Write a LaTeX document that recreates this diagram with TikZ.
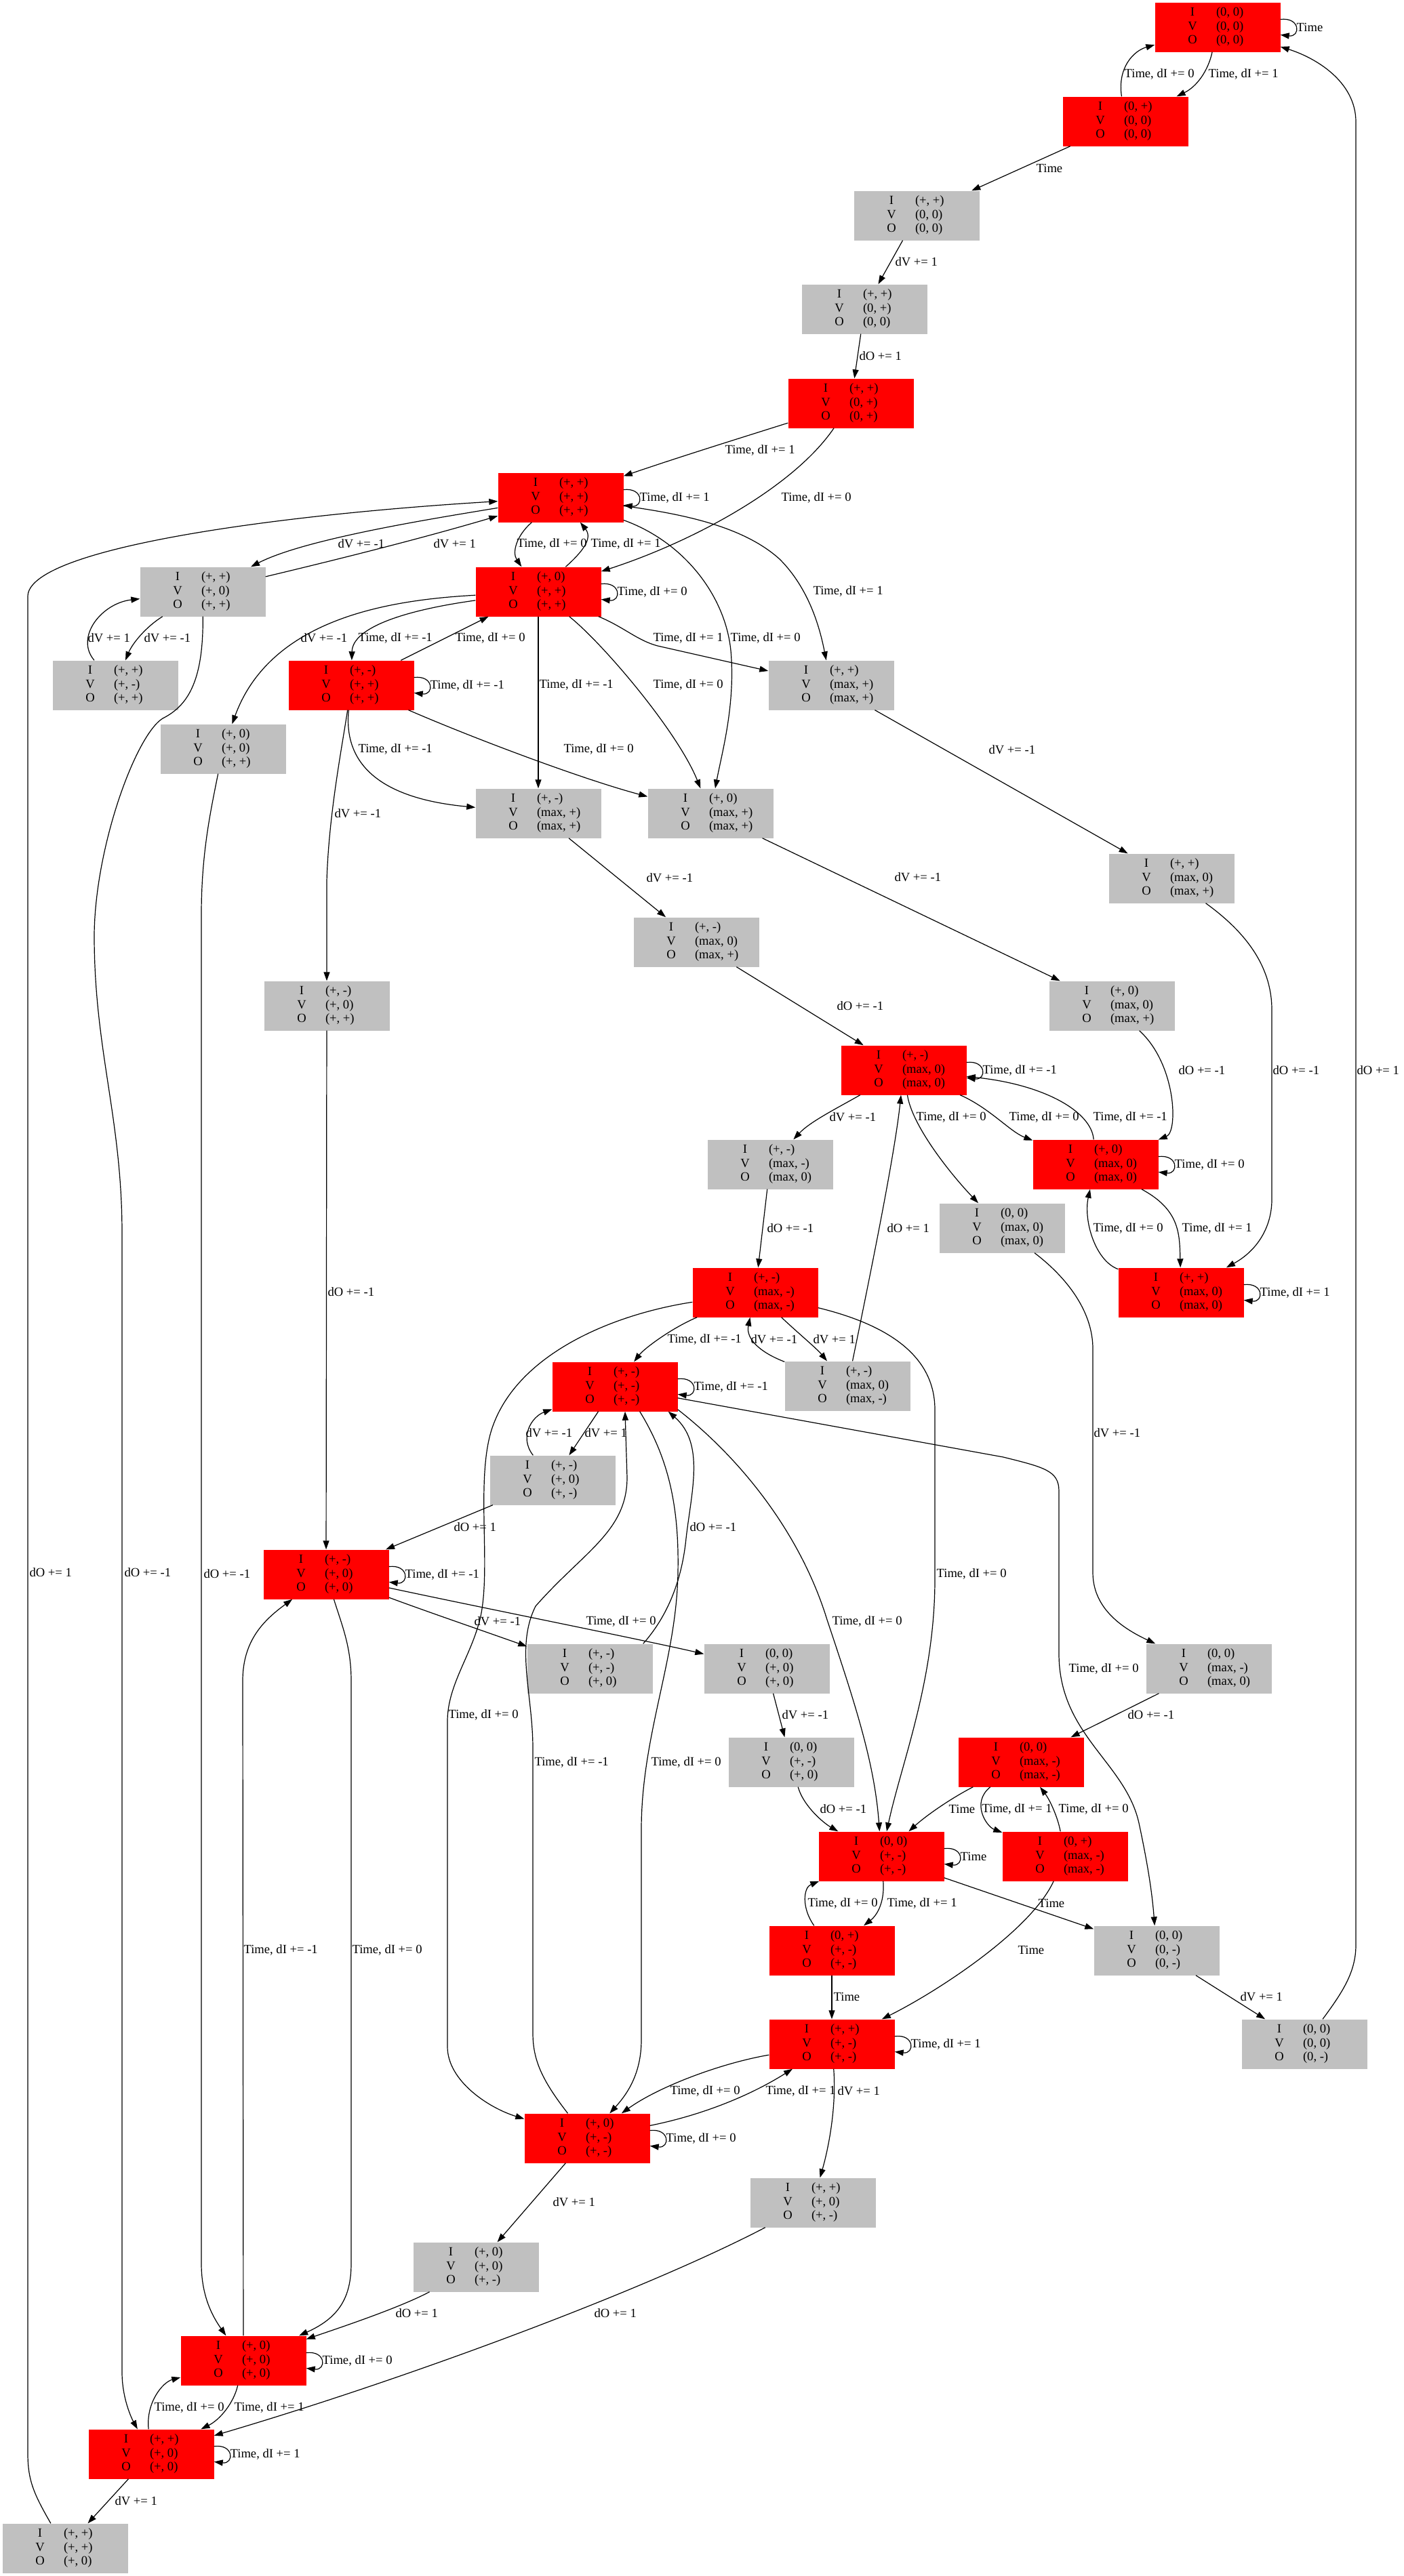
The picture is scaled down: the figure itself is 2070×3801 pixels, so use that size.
\documentclass[tikz,border=0pt]{standalone}
\usepackage{fontspec}
\setmainfont{Liberation Serif}
\usepackage{array}
\usetikzlibrary{arrows.meta}
\definecolor{stategrey}{RGB}{192,192,192}
\newcommand{\ivo}[3]{\begin{tabular}{@{}w{c}{70pt}@{}w{l}{74pt}@{}}I & #1\\ V & #2\\ O & #3\end{tabular}}
\tikzset{
qstate/.style = {rectangle, minimum width = 185pt, minimum height = 73pt, inner sep = 0pt,
   font = \fontsize{18.6pt}{20.3pt}\selectfont},
redstate/.style = {qstate, fill = red},
greystate/.style = {qstate, fill = stategrey},
transit/.style = {-{Triangle[length = 13pt, width = 9pt]}, line width = 1.2pt},
selfloop/.style = {out = 7, in = -7, distance = 30pt},
lab/.style = {anchor = west, inner sep = 1pt, font = \fontsize{18.6pt}{20.3pt}\selectfont}
}

\begin{document}
\begin{tikzpicture}[x = 1pt, y = -1pt]
\useasboundingbox (0,0) rectangle (2070,3801);

%% States
\node [redstate]  (s1)  at (1796,40)   {\ivo{(0, 0)}{(0, 0)}{(0, 0)}};
\node [redstate]  (s2)  at (1660,179)  {\ivo{(0, +)}{(0, 0)}{(0, 0)}};
\node [greystate] (s3)  at (1352,318)  {\ivo{(+, +)}{(0, 0)}{(0, 0)}};
\node [greystate] (s4)  at (1275,456)  {\ivo{(+, +)}{(0, +)}{(0, 0)}};
\node [redstate]  (s5)  at (1255,595)  {\ivo{(+, +)}{(0, +)}{(0, +)}};
\node [redstate]  (s6)  at (827,734)   {\ivo{(+, +)}{(+, +)}{(+, +)}};
\node [greystate] (s7)  at (299,873)   {\ivo{(+, +)}{(+, 0)}{(+, +)}};
\node [redstate]  (s8)  at (794,873)   {\ivo{(+, 0)}{(+, +)}{(+, +)}};
\node [greystate] (s9)  at (170,1011)  {\ivo{(+, +)}{(+, -)}{(+, +)}};
\node [redstate]  (s10) at (518,1011)  {\ivo{(+, -)}{(+, +)}{(+, +)}};
\node [greystate] (s11) at (1226,1011) {\ivo{(+, +)}{(max, +)}{(max, +)}};
\node [greystate] (s12) at (329,1105)  {\ivo{(+, 0)}{(+, 0)}{(+, +)}};
\node [greystate] (s13) at (794,1200)  {\ivo{(+, -)}{(max, +)}{(max, +)}};
\node [greystate] (s14) at (1048,1200) {\ivo{(+, 0)}{(max, +)}{(max, +)}};
\node [greystate] (s15) at (1027,1390) {\ivo{(+, -)}{(max, 0)}{(max, +)}};
\node [greystate] (s16) at (1728,1296) {\ivo{(+, +)}{(max, 0)}{(max, +)}};
\node [greystate] (s17) at (1640,1484) {\ivo{(+, 0)}{(max, 0)}{(max, +)}};
\node [greystate] (s18) at (482,1484)  {\ivo{(+, -)}{(+, 0)}{(+, +)}};
\node [redstate]  (s19) at (1333,1579) {\ivo{(+, -)}{(max, 0)}{(max, 0)}};
\node [greystate] (s20) at (1136,1718) {\ivo{(+, -)}{(max, -)}{(max, 0)}};
\node [redstate]  (s21) at (1616,1718) {\ivo{(+, 0)}{(max, 0)}{(max, 0)}};
\node [greystate] (s22) at (1478,1812) {\ivo{(0, 0)}{(max, 0)}{(max, 0)}};
\node [redstate]  (s23) at (1114,1907) {\ivo{(+, -)}{(max, -)}{(max, -)}};
\node [redstate]  (s24) at (1742,1907) {\ivo{(+, +)}{(max, 0)}{(max, 0)}};
\node [greystate] (s25) at (1250,2045) {\ivo{(+, -)}{(max, 0)}{(max, -)}};
\node [redstate]  (s26) at (907,2046)  {\ivo{(+, -)}{(+, -)}{(+, -)}};
\node [greystate] (s27) at (815,2184)  {\ivo{(+, -)}{(+, 0)}{(+, -)}};
\node [redstate]  (s28) at (481,2323)  {\ivo{(+, -)}{(+, 0)}{(+, 0)}};
\node [greystate] (s29) at (870,2462)  {\ivo{(+, -)}{(+, -)}{(+, 0)}};
\node [greystate] (s30) at (1131,2462) {\ivo{(0, 0)}{(+, 0)}{(+, 0)}};
\node [greystate] (s31) at (1167,2600) {\ivo{(0, 0)}{(+, -)}{(+, 0)}};
\node [redstate]  (s32) at (1300,2739) {\ivo{(0, 0)}{(+, -)}{(+, -)}};
\node [greystate] (s33) at (1783,2462) {\ivo{(0, 0)}{(max, -)}{(max, 0)}};
\node [redstate]  (s34) at (1506,2600) {\ivo{(0, 0)}{(max, -)}{(max, -)}};
\node [redstate]  (s35) at (1571,2739) {\ivo{(0, +)}{(max, -)}{(max, -)}};
\node [redstate]  (s36) at (1227,2878) {\ivo{(0, +)}{(+, -)}{(+, -)}};
\node [greystate] (s37) at (1706,2878) {\ivo{(0, 0)}{(0, -)}{(0, -)}};
\node [redstate]  (s38) at (1227,3016) {\ivo{(+, +)}{(+, -)}{(+, -)}};
\node [greystate] (s39) at (1924,3016) {\ivo{(0, 0)}{(0, 0)}{(0, -)}};
\node [greystate] (s40) at (1199,3250) {\ivo{(+, +)}{(+, 0)}{(+, -)}};
\node [redstate]  (s41) at (866,3155)  {\ivo{(+, 0)}{(+, -)}{(+, -)}};
\node [greystate] (s42) at (702,3345)  {\ivo{(+, 0)}{(+, 0)}{(+, -)}};
\node [redstate]  (s43) at (359,3483)  {\ivo{(+, 0)}{(+, 0)}{(+, 0)}};
\node [redstate]  (s44) at (223,3621)  {\ivo{(+, +)}{(+, 0)}{(+, 0)}};
\node [greystate] (s45) at (96,3760)   {\ivo{(+, +)}{(+, +)}{(+, 0)}};

%% Self loops
\foreach \nm/\lbl in {s1/Time, s6/{Time, dI += 1}, s8/{Time, dI += 0}, s10/{Time, dI += -1},
   s19/{Time, dI += -1}, s21/{Time, dI += 0}, s24/{Time, dI += 1}, s26/{Time, dI += -1},
   s28/{Time, dI += -1}, s32/Time, s38/{Time, dI += 1}, s41/{Time, dI += 0},
   s43/{Time, dI += 0}, s44/{Time, dI += 1}}
   \draw [transit] (\nm) to [selfloop] node [lab] {\lbl} (\nm);

%% Top chain
\draw [transit] (s1) .. controls (1782,105) and (1765,128) .. (s2) node [lab] at (1781,109) {Time, dI += 1};
\draw [transit] (s2) .. controls (1648,100) and (1672,75) .. (s1) node [lab] at (1657,109) {Time, dI += 0};
\draw [transit] (s2) -- (s3) node [lab] at (1527,248) {Time};
\draw [transit] (s3) -- (s4) node [lab] at (1319,386) {dV += 1};
\draw [transit] (s4) -- (s5) node [lab] at (1266,525) {dO += 1};
\draw [transit] (s5) .. controls (1080,650) and (1000,675) .. (s6) node [lab] at (1068,664) {Time, dI += 1};
\draw [transit] (s5) .. controls (1170,720) and (1020,800) .. (s8) node [lab] at (1151,734) {Time, dI += 0};

%% Upper block
\draw [transit] (s6) .. controls (640,765) and (450,795) .. (s7) node [lab] at (497,802) {dV += -1};
\draw [transit] (s7) .. controls (500,825) and (620,795) .. (s6) node [lab] at (638,802) {dV += 1};
\draw [transit] (s6) .. controls (762,790) and (755,815) .. (s8) node [lab] at (761,802) {Time, dI += 0};
\draw [transit] (s8) .. controls (858,815) and (875,795) .. (s6) node [lab] at (870,802) {Time, dI += 1};
\draw [transit] (s6) .. controls (1010,800) and (1070,880) .. (1078,960) .. controls (1085,1040) and (1065,1110) .. (s14)
   node [lab] at (1076,941) {Time, dI += 0};
\draw [transit] (s6) .. controls (1020,760) and (1100,780) .. (1150,825) .. controls (1195,870) and (1210,930) .. (s11)
   node [lab] at (1198,872) {Time, dI += 1};
\draw [transit] (s8) .. controls (580,885) and (400,910) .. (s12) node [lab] at (442,941) {dV += -1};
\draw [transit] (s8) .. controls (600,900) and (520,925) .. (s10) node [lab] at (527,941) {Time, dI += -1};
\draw [transit] (s10) .. controls (630,955) and (690,925) .. (s8) node [lab] at (670,941) {Time, dI += 0};
\draw [transit] (s8) -- (s13) node [lab] at (794,1010) {Time, dI += -1};
\draw [transit] (s8) .. controls (890,950) and (1000,1080) .. (s14) node [lab] at (962,1010) {Time, dI += 0};
\draw [transit] (s8) .. controls (920,925) and (940,945) .. (970,953) -- (s11) node [lab] at (962,941) {Time, dI += 1};
\draw [transit] (s7) .. controls (215,925) and (195,950) .. (s9) node [lab] at (211,941) {dV += -1};
\draw [transit] (s9) .. controls (110,940) and (150,890) .. (s7) node [lab] at (128,941) {dV += 1};
\draw [transit] (s10) .. controls (505,1100) and (485,1200) .. (482,1300) -- (s18) node [lab] at (492,1200) {dV += -1};
\draw [transit] (s10) .. controls (505,1140) and (580,1180) .. (s13) node [lab] at (527,1105) {Time, dI += -1};
\draw [transit] (s10) .. controls (700,1090) and (860,1150) .. (s14) node [lab] at (830,1105) {Time, dI += 0};
\draw [transit] (s11) -- (s16) node [lab] at (1457,1106) {dV += -1};
\draw [transit] (s13) -- (s15) node [lab] at (952,1295) {dV += -1};
\draw [transit] (s14) -- (s17) node [lab] at (1318,1294) {dV += -1};
\draw [transit] (s15) -- (s19) node [lab] at (1233,1484) {dO += -1};
\draw [transit] (s17) .. controls (1735,1570) and (1738,1670) .. (s21) node [lab] at (1737,1579) {dO += -1};
\draw [transit] (s16) .. controls (1830,1370) and (1876,1420) .. (1876,1490) -- (1876,1770)
   .. controls (1876,1810) and (1855,1845) .. (s24) node [lab] at (1876,1579) {dO += -1};
\draw [transit] (s18) -- (s28) node [lab] at (482,1906) {dO += -1};

%% Max block
\draw [transit] (s19) .. controls (1235,1635) and (1195,1655) .. (s20) node [lab] at (1222,1648) {dV += -1};
\draw [transit] (s19) .. controls (1345,1660) and (1400,1730) .. (s22) node [lab] at (1350,1648) {Time, dI += 0};
\draw [transit] (s19) .. controls (1460,1635) and (1490,1670) .. (s21) node [lab] at (1487,1648) {Time, dI += 0};
\draw [transit] (s21) .. controls (1610,1640) and (1540,1600) .. (s19) node [lab] at (1611,1648) {Time, dI += -1};
\draw [transit] (s25) .. controls (1290,1850) and (1320,1700) .. (s19) node [lab] at (1307,1812) {dO += 1};
\draw [transit] (s20) -- (s23) node [lab] at (1130,1812) {dO += -1};
\draw [transit] (s21) .. controls (1740,1785) and (1740,1820) .. (s24) node [lab] at (1742,1812) {Time, dI += 1};
\draw [transit] (s24) .. controls (1615,1860) and (1598,1800) .. (s21) node [lab] at (1611,1812) {Time, dI += 0};
\draw [transit] (s22) .. controls (1580,1890) and (1612,1940) .. (1612,1990) -- (1612,2320)
   .. controls (1612,2370) and (1650,2400) .. (s33) node [lab] at (1612,2114) {dV += -1};
\draw [transit] (s23) .. controls (990,1960) and (950,1990) .. (s26) node [lab] at (983,1976) {Time, dI += -1};
\draw [transit] (s23) .. controls (900,1940) and (760,2000) .. (725,2110) .. controls (700,2190) and (728,2330) .. (705,2400)
   .. controls (690,2450) and (660,2490) .. (660,2540) -- (660,3020) .. controls (660,3070) and (720,3110) .. (s41)
   node [lab] at (660,2530) {Time, dI += 0};
\draw [transit] (s23) .. controls (1290,1950) and (1379,1990) .. (1379,2080) -- (1379,2330)
   .. controls (1379,2480) and (1330,2600) .. (s32) node [lab] at (1380,2322) {Time, dI += 0};
\draw [transit] (s23) .. controls (1175,1965) and (1205,1990) .. (s25) node [lab] at (1198,1976) {dV += 1};
\draw [transit] (s25) .. controls (1120,1995) and (1100,1975) .. (s23) node [lab] at (1106,1976) {dV += -1};

%% Lower block
\draw [transit] (s26) -- (s27) node [lab] at (861,2114) {dV += 1};
\draw [transit] (s27) .. controls (765,2120) and (785,2090) .. (s26) node [lab] at (774,2114) {dV += -1};
\draw [transit] (s27) -- (s28) node [lab] at (668,2253) {dO += 1};
\draw [transit] (s29.25) .. controls (980,2390) and (1005,2340) .. (1012,2270) .. controls (1020,2200) and (1040,2130) .. (s26.-25)
   node [lab] at (1016,2253) {dO += -1};
\draw [transit] (s26.-20) .. controls (1090,2150) and (1180,2260) .. (1220,2390) .. controls (1260,2510) and (1290,2600) .. (s32)
   node [lab] at (1226,2392) {Time, dI += 0};
\draw [transit] (s26) -- (1480,2150) .. controls (1540,2165) and (1562,2170) .. (1562,2200) -- (1562,2440)
   .. controls (1562,2560) and (1660,2600) .. (1680,2690) .. controls (1695,2760) and (1700,2800) .. (s37)
   node [lab] at (1575,2462) {Time, dI += 0};
\draw [transit] (s28) .. controls (630,2378) and (700,2402) .. (s29) node [lab] at (698,2392) {dV += -1};
\draw [transit] (s28) .. controls (700,2370) and (950,2420) .. (s30) node [lab] at (863,2392) {Time, dI += 0};
\draw [transit] (s28) .. controls (505,2400) and (518,2430) .. (518,2480) -- (518,3340)
   .. controls (518,3390) and (500,3420) .. (s43) node [lab] at (518,2877) {Time, dI += 0};
\draw [transit] (s43) -- (358,2480) .. controls (358,2420) and (390,2390) .. (s28) node [lab] at (358,2877) {Time, dI += -1};
\draw [transit] (s30) -- (s31) node [lab] at (1152,2530) {dV += -1};
\draw [transit] (s31) .. controls (1185,2665) and (1215,2690) .. (s32) node [lab] at (1208,2669) {dO += -1};
\draw [transit] (s33) -- (s34) node [lab] at (1662,2530) {dO += -1};
\draw [transit] (s34) .. controls (1400,2655) and (1365,2680) .. (s32) node [lab] at (1398,2669) {Time};
\draw [transit] (s34) .. controls (1432,2660) and (1455,2695) .. (s35) node [lab] at (1447,2669) {Time, dI += 1};
\draw [transit] (s35) .. controls (1560,2680) and (1548,2655) .. (s34) node [lab] at (1560,2669) {Time, dI += 0};
\draw [transit] (s35) .. controls (1520,2850) and (1380,2940) .. (s38) node [lab] at (1500,2877) {Time};
\draw [transit] (s32) .. controls (1305,2805) and (1295,2825) .. (s36) node [lab] at (1307,2808) {Time, dI += 1};
\draw [transit] (s36) .. controls (1182,2815) and (1185,2785) .. (s32) node [lab] at (1190,2808) {Time, dI += 0};
\draw [transit] (s32) -- (s37) node [lab] at (1530,2808) {Time};
\draw [transit] (s36) -- (s38) node [lab] at (1228,2946) {Time};
\draw [transit] (s37) -- (s39) node [lab] at (1828,2946) {dV += 1};
\draw [transit] (s38) .. controls (1234,3110) and (1222,3170) .. (s40) node [lab] at (1234,3085) {dV += 1};
\draw [transit] (s38) .. controls (1060,3045) and (970,3080) .. (s41) node [lab] at (987,3085) {Time, dI += 0};
\draw [transit] (s41) .. controls (1040,3120) and (1110,3090) .. (s38) node [lab] at (1128,3085) {Time, dI += 1};
\draw [transit] (s41) .. controls (800,3070) and (786,3040) .. (786,3000) -- (786,2580) .. controls (786,2500) and (760,2430) .. (790,2370)
   .. controls (860,2290) and (925,2260) .. (925,2180) -- ([xshift=15pt]s26.south) node [lab] at (787,2600) {Time, dI += -1};
\draw [transit] (s26.-45) .. controls (985,2150) and (1002,2220) .. (1000,2320) .. controls (998,2450) and (946,2560) .. (946,2700)
   -- (946,3010) .. controls (946,3060) and (925,3090) .. (s41) node [lab] at (959,2600) {Time, dI += 0};
\draw [transit] (s41) -- (s42) node [lab] at (814,3249) {dV += 1};
\draw [transit] (s42) .. controls (590,3405) and (500,3435) .. (s43) node [lab] at (582,3413) {dO += 1};
\draw [transit] (s40) .. controls (950,3380) and (600,3510) .. (s44) node [lab] at (875,3413) {dO += 1};
\draw [transit] (s43) .. controls (345,3545) and (325,3570) .. (s44) node [lab] at (344,3552) {Time, dI += 1};
\draw [transit] (s44) .. controls (215,3545) and (240,3515) .. (s43) node [lab] at (226,3552) {Time, dI += 0};
\draw [transit] (s44) -- (s45) node [lab] at (168,3690) {dV += 1};

%% Long returns
\draw [transit] (s7) .. controls (300,1000) and (280,1040) .. (240,1060) .. controls (200,1085) and (140,1250) .. (139,1380)
   .. controls (139,1550) and (180,1650) .. (180,1820) -- (180,3500) .. controls (180,3540) and (195,3570) .. (s44)
   node [lab] at (182,2320) {dO += -1};
\draw [transit] (s12) .. controls (310,1200) and (297,1260) .. (297,1350) -- (297,3340)
   .. controls (297,3390) and (315,3420) .. (s43) node [lab] at (299,2322) {dO += -1};
\draw [transit] (s45) .. controls (50,3680) and (41,3660) .. (41,3620) -- (41,880)
   .. controls (41,810) and (400,760) .. (s6) node [lab] at (42,2320) {dO += 1};
\draw [transit] (s39) .. controls (1980,2940) and (2000,2910) .. (2000,2870) -- (2000,180)
   .. controls (2000,120) and (1940,85) .. (s1) node [lab] at (2000,1579) {dO += 1};

\end{tikzpicture}
\end{document}
